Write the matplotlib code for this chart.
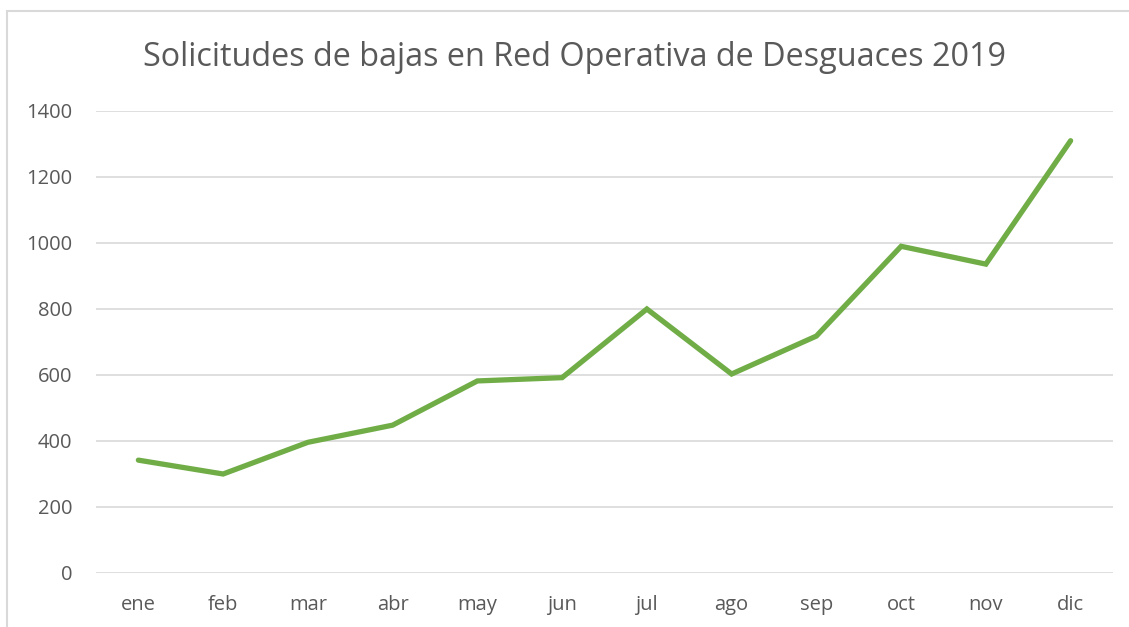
import matplotlib.pyplot as plt
from matplotlib.patches import Rectangle

months = ['ene', 'feb', 'mar', 'abr', 'may', 'jun',
          'jul', 'ago', 'sep', 'oct', 'nov', 'dic']
bajas = [342, 300, 396, 448, 582, 592, 800, 603, 718, 990, 936, 1310]
yticks = [0, 200, 400, 600, 800, 1000, 1200, 1400]

title = 'Solicitudes de bajas en Red Operativa de Desguaces 2019'
txt_color = '#595959'
grid_color = '#D9D9D9'
green = '#70AD47'

plt.rcParams['font.family'] = ['Open Sans', 'DejaVu Sans']

fig = plt.figure(figsize=(11.29, 6.27), dpi=100)
# outer chart frame (partly cut off at right and bottom)
fig.patches.append(Rectangle((7 / 1129, -0.1), 1.2, 1.1 - 11 / 627,
                             transform=fig.transFigure, fill=False,
                             edgecolor=grid_color, linewidth=1.5))

ax = fig.add_axes([96 / 1129, 1 - 573 / 627, (1113 - 96) / 1129, (573 - 111) / 627])
x = list(range(len(months)))
ax.plot(x, bajas, color=green, linewidth=3.8, solid_joinstyle='miter',
        solid_capstyle='round', zorder=3)

ax.set_xlim(-0.5, len(months) - 0.5)
ax.set_ylim(0, 1400)
ax.set_yticks(yticks)
ax.set_xticks(x)
ax.set_xticklabels(months)
ax.grid(axis='y', color=grid_color, linewidth=1.2)
ax.set_axisbelow(True)
for s in ax.spines.values():
    s.set_visible(False)
ax.tick_params(length=0, labelsize=14.5, colors=txt_color)
ax.tick_params(axis='y', pad=17)
ax.tick_params(axis='x', pad=16)

fig.text(574 / 1129, 1 - 58 / 627, title, ha='center', va='center',
         fontsize=23.3, color=txt_color)

fig.savefig('out.png', dpi=100)
